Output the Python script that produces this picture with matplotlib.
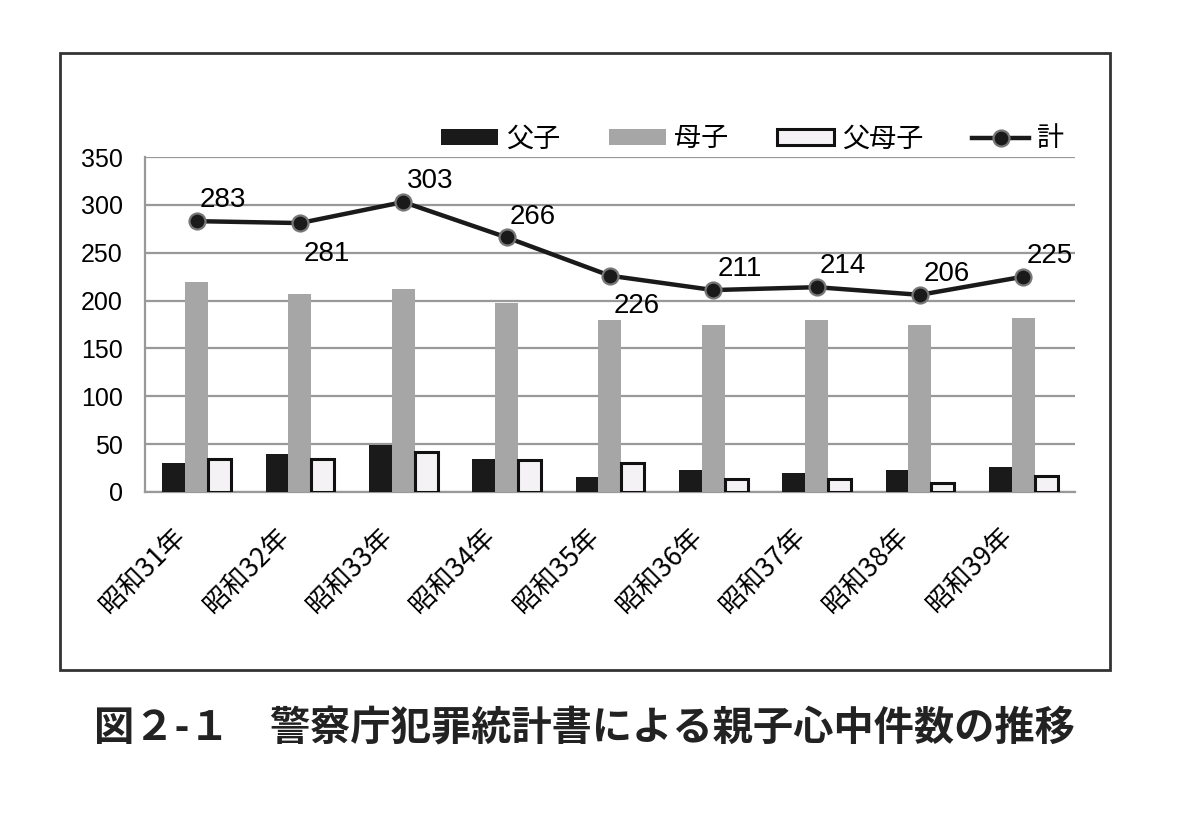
import matplotlib
matplotlib.use("Agg")
import matplotlib.pyplot as plt
import matplotlib.transforms as mtransforms
import numpy as np
from matplotlib.patches import Rectangle

categories = ["昭和31年", "昭和32年", "昭和33年", "昭和34年", "昭和35年",
              "昭和36年", "昭和37年", "昭和38年", "昭和39年"]
father = [30, 40, 49, 35, 16, 23, 20, 23, 26]
mother = [219, 207, 212, 198, 180, 174, 180, 174, 182]
both = [34, 34, 42, 33, 30, 14, 14, 9, 17]
total = [283, 281, 303, 266, 226, 211, 214, 206, 225]
series_names = ["父子", "母子", "父母子", "計"]
yticks = [0, 50, 100, 150, 200, 250, 300, 350]
caption = "図２-１　警察庁犯罪統計書による親子心中件数の推移"

CJK = ["Noto Sans CJK JP", "DejaVu Sans"]
NUM = ["Liberation Sans", "DejaVu Sans"]

fig = plt.figure(figsize=(12, 8.17), dpi=100)
ax = fig.add_axes([0.1208, 0.3978, 0.775, 0.41])

x = np.arange(len(categories))
w = 0.222
h1 = ax.bar(x - w, father, w, color="#1a1a1a", label=series_names[0], zorder=3)
h2 = ax.bar(x, mother, w, color="#a6a6a6", label=series_names[1], zorder=3)
h3 = ax.bar(x + w, both, w, color="#f4f2f4", edgecolor="#111111", linewidth=2.2,
            label=series_names[2], zorder=3)
h4, = ax.plot(x, total, color="#1a1a1a", linewidth=3.2, marker="o", markersize=11.5,
              markerfacecolor="#1a1a1a", markeredgecolor="#777777", markeredgewidth=1.6,
              label=series_names[3], zorder=4)

below = {1, 4}
for i, v in enumerate(total):
    dy = -22 if i in below else 15
    ax.annotate(str(v), (x[i], v), xytext=(19, dy), textcoords="offset points",
                ha="center", va="center", fontsize=20, family=NUM, zorder=5)

ax.set_xlim(-0.5, len(categories) - 0.5)
ax.set_ylim(0, 350)
ax.set_yticks(yticks)
ax.set_yticklabels([str(t) for t in yticks], family=NUM, fontsize=18)
ax.yaxis.grid(True, color="#999999", linewidth=1.6, zorder=0)
ax.set_axisbelow(True)
ax.tick_params(axis="both", length=0)
ax.tick_params(axis="y", pad=16)
ax.set_xticks(x)
ax.set_xticklabels(categories, rotation=45, ha="right", va="top",
                   rotation_mode="anchor", family=CJK, fontsize=19)
ax.tick_params(axis="x", pad=22)
shift = mtransforms.ScaledTranslation(-25 / 100, 0, fig.dpi_scale_trans)
for lab in ax.get_xticklabels():
    lab.set_transform(lab.get_transform() + shift)
for s in ["top", "right"]:
    ax.spines[s].set_visible(False)
ax.spines["left"].set_color("#999999")
ax.spines["left"].set_linewidth(1.6)
ax.spines["bottom"].set_color("#999999")
ax.spines["bottom"].set_linewidth(1.6)

leg = fig.legend([h1, h2, h3, h4], series_names, loc="center right",
                 bbox_to_anchor=(0.887, 0.830), bbox_transform=fig.transFigure,
                 ncol=4, frameon=False, prop={"family": CJK, "size": 19.5},
                 handlelength=2.1, handleheight=0.52, handletextpad=0.3,
                 columnspacing=1.8, borderpad=0, borderaxespad=0)

# outer frame
fig.patches.append(Rectangle((0.05, 0.1799), 0.875, 0.7552, transform=fig.transFigure,
                             fill=False, edgecolor="#333333", linewidth=2))

fig.text(0.078, 0.108, caption, family=CJK, fontsize=29, fontweight="bold",
         ha="left", va="center", color="#222222")

fig.savefig("out.png", dpi=100)
